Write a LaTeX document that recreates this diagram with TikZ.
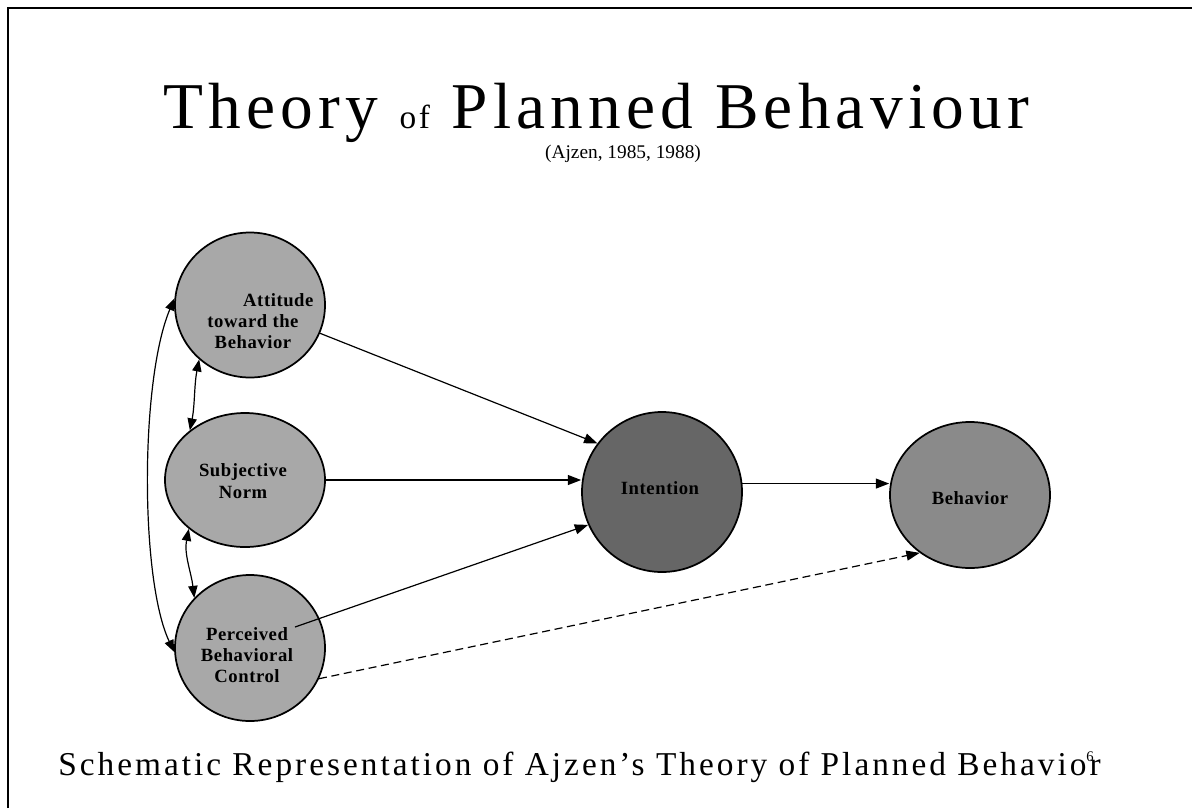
\documentclass[tikz,border=0pt]{standalone}
\usepackage{fontspec}
\setmainfont{Liberation Serif}
\newfontfamily\titlefont[LetterSpace=8]{Liberation Serif}
\newfontfamily\capfont[LetterSpace=9]{Liberation Serif}
\newfontfamily\lblfont[LetterSpace=3]{Liberation Serif}
\usetikzlibrary{shapes.geometric,arrows.meta,calc}
\definecolor{lightc}{gray}{0.66}
\definecolor{midc}{gray}{0.54}
\definecolor{darkc}{gray}{0.40}
\begin{document}
\begin{tikzpicture}[x=0.75pt,y=-0.75pt,
  bubble/.style={ellipse,draw=black,line width=1.3pt,inner sep=0pt},
  lbl/.style={font=\lblfont\fontsize{14}{16}\selectfont\bfseries,align=center,inner sep=0pt},
  arr/.style={-{Triangle[length=10pt,width=7.5pt]},line width=0.9pt},
  dbl/.style={{Triangle[length=9pt,width=7pt]}-{Triangle[length=9pt,width=7pt]},line width=0.9pt}]
\useasboundingbox (0,0) rectangle (1192,808);
\fill[white] (0,0) rectangle (1192,808);
% frame
\draw[line width=2.2pt] (8,808) -- (8,8) -- (1192,8);

% titles
\node[anchor=base west,inner sep=0pt] (title) at (163,128)
  {\titlefont\fontsize{49}{54}\selectfont Theory {\fontsize{25}{30}\selectfont of} Planned Behaviour};
\node[anchor=base,inner sep=0pt] (cite) at (623,158)
  {\fontsize{14.5}{16}\selectfont (Ajzen, 1985, 1988)};
\node[anchor=base west,inner sep=0pt] (cap) at (58,775)
  {\capfont\fontsize{25}{30}\selectfont Schematic Representation of Ajzen’s Theory of Planned Behavior};
\node[inner sep=0pt] (pg) at (1090,757) {\fontsize{11}{12}\selectfont 6};

% bubbles
\node[bubble,fill=lightc,minimum width=112.5pt,minimum height=108.75pt] (att) at (250,305) {};
\node[bubble,fill=lightc,minimum width=120pt,minimum height=100.5pt] (subj) at (245,480) {};
\node[bubble,fill=lightc,minimum width=112.5pt,minimum height=109.5pt] (perc) at (250,648) {};
\node[bubble,fill=darkc,minimum width=120pt,minimum height=120pt] (int) at (662,492) {};
\node[bubble,fill=midc,minimum width=120pt,minimum height=109.5pt] (beh) at (970,495) {};

% labels
\node[lbl] (attT) at (253,321) {\hspace*{38pt}Attitude\\toward the\\Behavior};
\node[lbl] (subjT) at (243,481) {Subjective\\Norm};
\node[lbl] (percT) at (247,655) {Perceived\\Behavioral\\Control};
\node[lbl] (intT) at (660,488) {Intention};
\node[lbl] (behT) at (970,498) {Behavior};

% connectors
\coordinate (pstart) at ($(perc)+(45,-21)$);
\draw[arr] (att.-22) -- (int.143);
\draw[arr] (subj.east) -- (subj.east -| int.west);
\draw[arr] (pstart) -- (int.204);
\draw[arr] (int.6) -- (int.6 -| beh.west);
\draw[arr,dashed,dash pattern=on 6pt off 3.5pt] (perc.-24) -- (beh.229);
\draw[dbl] (att.227) .. controls +(-5,25) and +(5,-25) .. (subj.138);
\draw[dbl] (subj.221) .. controls +(-5,25) and +(-3,-25) .. (perc.138);
\draw[dbl] (att.175) .. controls (140,380) and (140,580) .. (perc.183);
\end{tikzpicture}
\end{document}
